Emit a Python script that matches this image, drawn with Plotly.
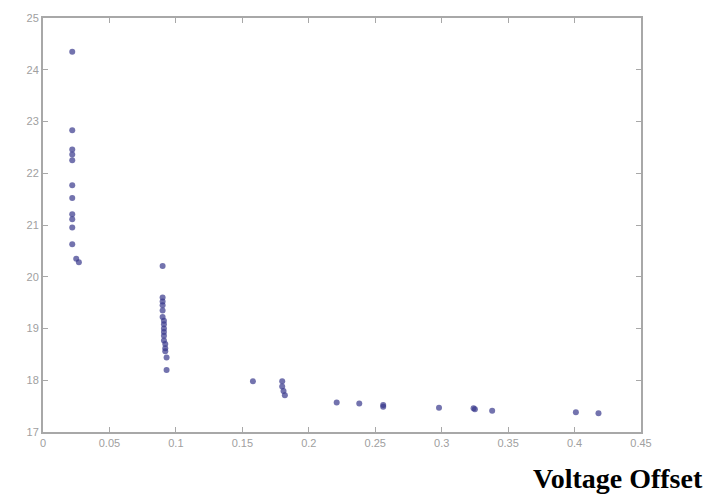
import plotly.graph_objects as go

# Data (Voltage Offset vs. value)
x_cluster1 = [0.022, 0.022, 0.022, 0.022, 0.022, 0.022, 0.022, 0.022, 0.022, 0.022, 0.022, 0.025, 0.027]
y_cluster1 = [24.35, 22.83, 22.46, 22.36, 22.25, 21.77, 21.52, 21.21, 21.11, 20.95, 20.63, 20.35, 20.28]

x_cluster2 = [0.090, 0.090, 0.090, 0.090, 0.090, 0.090, 0.091, 0.091, 0.091, 0.091, 0.091, 0.091, 0.092, 0.092, 0.092, 0.093, 0.093]
y_cluster2 = [20.21, 19.60, 19.52, 19.45, 19.35, 19.22, 19.15, 19.08, 19.00, 18.93, 18.86, 18.77, 18.70, 18.62, 18.56, 18.44, 18.20]

x_tail = [0.158, 0.180, 0.180, 0.181, 0.182, 0.221, 0.238, 0.256, 0.256, 0.298, 0.324, 0.325, 0.338, 0.401, 0.418]
y_tail = [17.98, 17.98, 17.88, 17.79, 17.71, 17.57, 17.55, 17.52, 17.49, 17.47, 17.46, 17.44, 17.41, 17.38, 17.36]

x_ticks = [0, 0.05, 0.1, 0.15, 0.2, 0.25, 0.3, 0.35, 0.4, 0.45]
x_ticktext = ["0", "0.05", "0.1", "0.15", "0.2", "0.25", "0.3", "0.35", "0.4", "0.45"]
y_ticks = [17, 18, 19, 20, 21, 22, 23, 24, 25]
y_ticktext = ["17", "18", "19", "20", "21", "22", "23", "24", "25"]

xs = x_cluster1 + x_cluster2 + x_tail
ys = y_cluster1 + y_cluster2 + y_tail

fig = go.Figure()
fig.add_trace(go.Scatter(
    x=xs, y=ys, mode="markers",
    marker=dict(size=6, color="rgba(55,55,140,0.7)", line=dict(width=0)),
    showlegend=False,
))

axis_common = dict(
    showgrid=False, zeroline=False,
    showline=True, linecolor="#a8a8a8", linewidth=2, mirror="ticks",
    ticks="inside", ticklen=5, tickwidth=1, tickcolor="#a8a8a8",
    tickfont=dict(family="Liberation Sans, Arial", size=11, color="#a0a0a0"),
)

fig.update_xaxes(range=[0, 0.45], tickvals=x_ticks, ticktext=x_ticktext, **axis_common)
fig.update_yaxes(range=[17, 25], tickvals=y_ticks, ticktext=y_ticktext, **axis_common)

fig.add_annotation(
    text="<b>Voltage Offset</b>", xref="paper", yref="paper",
    x=1, y=0, xanchor="right", yanchor="middle", xshift=64, yshift=-46,
    showarrow=False,
    font=dict(family="Liberation Serif, Times New Roman", size=28, color="black"),
)

fig.update_layout(
    width=707, height=495,
    margin=dict(l=43, r=66, t=16, b=63),
    paper_bgcolor="white", plot_bgcolor="white",
)

fig.write_html("out.html")
